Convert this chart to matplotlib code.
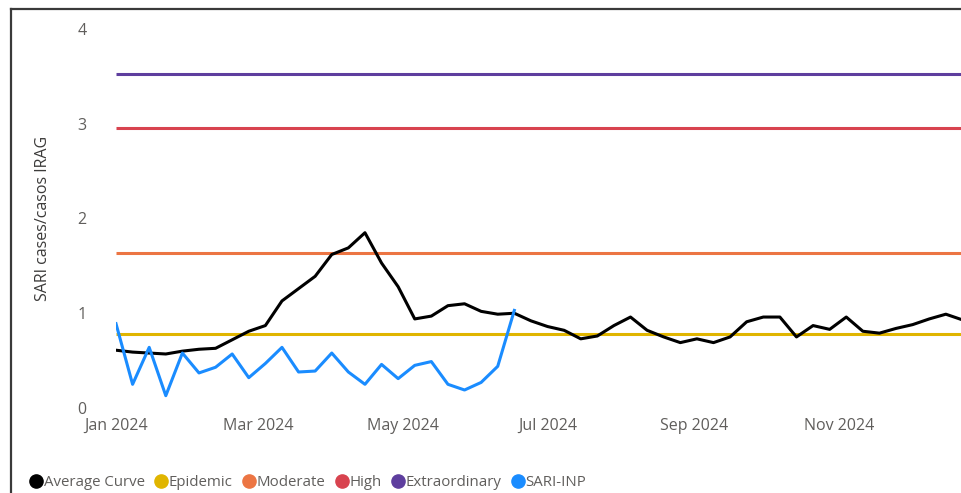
import matplotlib
matplotlib.use("Agg")
import matplotlib.pyplot as plt
import matplotlib.dates as mdates
from matplotlib.lines import Line2D
import numpy as np
import pandas as pd

plt.rcParams['font.family'] = ['Open Sans', 'DejaVu Sans']

# ---- data ----
weeks = pd.date_range("2024-01-01", periods=52, freq="7D")
average_curve = [0.61, 0.59, 0.58, 0.57, 0.60, 0.62, 0.63, 0.72, 0.81, 0.87,
                 1.13, 1.26, 1.39, 1.62, 1.69, 1.85, 1.53, 1.28, 0.94, 0.97,
                 1.08, 1.10, 1.02, 0.99, 1.00, 0.92, 0.86, 0.82, 0.73, 0.76,
                 0.87, 0.96, 0.82, 0.75, 0.69, 0.73, 0.69, 0.75, 0.91, 0.96,
                 0.96, 0.75, 0.87, 0.83, 0.96, 0.81, 0.79, 0.84, 0.88, 0.94,
                 0.99, 0.93]
sari_inp = [0.89, 0.25, 0.64, 0.13, 0.58, 0.37, 0.43, 0.57, 0.32, 0.47,
            0.64, 0.38, 0.39, 0.58, 0.38, 0.25, 0.46, 0.31, 0.45, 0.49,
            0.25, 0.19, 0.27, 0.44, 1.03]
thresholds = {"Epidemic": 0.78, "Moderate": 1.64, "High": 2.95, "Extraordinary": 3.53}
yticks = [0, 1, 2, 3, 4]
month_ticks = ["2024-01-01", "2024-03-01", "2024-05-01", "2024-07-01", "2024-09-01", "2024-11-01"]

colors = {"Average Curve": "#000000", "Epidemic": "#E0B500", "Moderate": "#EC7543",
          "High": "#D8434F", "Extraordinary": "#5E3E9E", "SARI-INP": "#1A8CFF"}

W, H = 961, 493
fig = plt.figure(figsize=(W / 100, H / 100), dpi=100)
ax = fig.add_axes([116 / W, (H - 408) / H, (961 - 116) / W, (408 - 29) / H])

start = pd.Timestamp("2024-01-01")
end = start + pd.Timedelta(days=(961 - 116) / 2.371)
ax.set_xlim(start, end)
ax.set_ylim(0, 4)

for name, val in thresholds.items():
    ax.plot([start, end], [val, val], color=colors[name], lw=2.2, solid_capstyle="butt", zorder=2)

ax.plot(weeks, average_curve, color=colors["Average Curve"], lw=2.2, zorder=3, clip_on=True)
ax.plot(weeks[:len(sari_inp)], sari_inp, color=colors["SARI-INP"], lw=2.2, zorder=4)

for s in ax.spines.values():
    s.set_visible(False)
ax.set_yticks(yticks)
ax.set_yticklabels([str(t) for t in yticks])
ax.set_xticks(pd.to_datetime(month_ticks))
ax.xaxis.set_major_formatter(mdates.DateFormatter("%b %Y"))
ax.tick_params(axis="both", length=0, colors="#605E5C", labelsize=11.5)
ax.tick_params(axis="y", pad=21)
ax.tick_params(axis="x", pad=7)
ax.set_ylabel("SARI cases/casos IRAG", fontsize=11.5, color="#3B3A39", labelpad=19)

# frame of the visual
fig.add_artist(Line2D([11 / W, 11 / W], [0, (H - 9) / H], color="#3A3A3A", lw=1.6))
fig.add_artist(Line2D([11 / W, 1], [(H - 9) / H, (H - 9) / H], color="#3A3A3A", lw=1.6))

handles = [Line2D([], [], marker="o", linestyle="none", markersize=9.5,
                  markerfacecolor=c, markeredgecolor=c) for c in colors.values()]
fig.legend(handles, list(colors.keys()), loc="center left",
           bbox_to_anchor=(28 / W, (H - 483) / H), ncol=6, frameon=False,
           handletextpad=0.0, columnspacing=0.55, handlelength=1.05,
           fontsize=10.8, labelcolor="#605E5C", borderaxespad=0, borderpad=0)

fig.savefig("out.png", dpi=100)
